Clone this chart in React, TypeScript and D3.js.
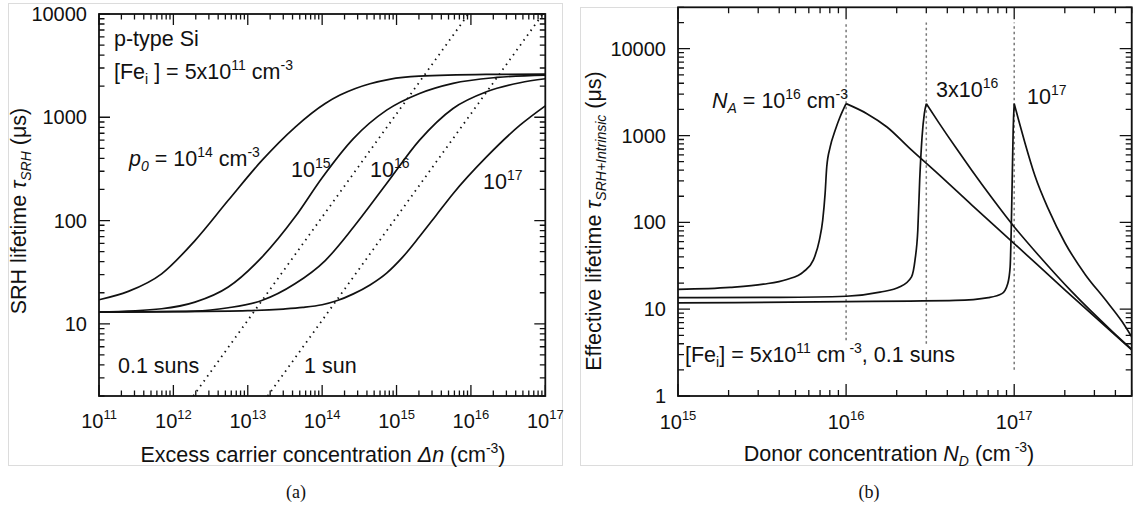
import React from "react";
import * as d3 from "d3";

type Pt = [number, number];

// ---------------- Panel (a): SRH lifetime vs excess carrier concentration ----------------
const p0Exponents = [14, 15, 16, 17];
const tauP0e14: Pt[] = [
  [1e11, 17.1], [2.48e11, 20.6], [6.95e11, 30.5], [1.95e12, 64], [5.47e12, 157],
  [1.54e13, 380], [4.31e13, 800], [1.1e14, 1360], [1.74e14, 1640], [2.8e14, 1900],
  [4.4e14, 2110], [8e14, 2330], [2.0e15, 2500], [1.6e16, 2600], [1e17, 2620],
];
const tauP0e15: Pt[] = [
  [1e11, 13], [6.95e11, 14.0], [1.95e12, 16.2], [5.47e12, 22.7], [1.54e13, 44],
  [4.31e13, 108], [1e14, 260], [2.63e14, 622], [7.36e14, 1172], [2.04e15, 1700],
  [5.75e15, 2130], [2.24e16, 2430], [1e17, 2560],
];
const tauP0e16: Pt[] = [
  [1e11, 13], [1.95e12, 13.3], [5.47e12, 14.3], [1.54e13, 16.8], [4.31e13, 24.4],
  [1.1e14, 41], [2.63e14, 86], [7.36e14, 228], [2.04e15, 600], [5.75e15, 1216],
  [1.62e16, 1764], [4.57e16, 2160], [1e17, 2360],
];
const tauP0e17: Pt[] = [
  [1e11, 13], [1e12, 13.1], [1e13, 13.4], [3e13, 13.9], [5.5e13, 14.4], [1e14, 15.3],
  [1.6e14, 16.8], [2.63e14, 19.5], [4.4e14, 23.8], [7.36e14, 31], [1.2e15, 44],
  [2.04e15, 70], [3.4e15, 112], [5.75e15, 182], [1.62e16, 413], [4.57e16, 838],
  [1e17, 1290],
];
const sunTenth: Pt[] = [[1.85e12, 2], [9.25e15, 10000]];
const sunOne: Pt[] = [[1.85e13, 2], [9.25e16, 10000]];
const leftXExps = [11, 12, 13, 14, 15, 16, 17];
const leftYTicks = ["10", "100", "1000", "10000"];

// ---------------- Panel (b): effective lifetime vs donor concentration ----------------
const naLabels = ["1e16", "3e16", "1e17"];
const tauNA1e16: Pt[] = [
  [1e15, 16.9], [2.04e15, 17.8], [3.22e15, 19.4], [4.44e15, 22], [5.57e15, 26.9],
  [6.38e15, 36.7], [6.93e15, 62], [7.26e15, 106], [7.5e15, 214], [7.67e15, 434],
  [8.04e15, 739], [8.61e15, 1148], [9.2e15, 1633], [1e16, 2330],
  [1.33e16, 1786], [1.75e16, 1253], [2.4e16, 706], [3.5e16, 366], [5.6e16, 158],
  [1e17, 57], [2e17, 16.7], [5e17, 3.4],
];
const tauNA3e16: Pt[] = [
  [1e15, 13.6], [4.05e15, 13.7], [1e16, 14.1], [1.59e16, 15.7], [2.09e16, 18.1],
  [2.45e16, 23.6], [2.57e16, 36.7], [2.67e16, 81], [2.74e16, 305], [2.83e16, 962],
  [2.92e16, 1786], [3e16, 2330],
  [3.55e16, 1419], [4.46e16, 741], [5.6e16, 396], [7.36e16, 192], [9.9e16, 91],
  [1.4e17, 41.5], [2.2e17, 15.9], [3.81e17, 5.6], [5e17, 3.45],
];
const tauNA1e17: Pt[] = [
  [1e15, 11.8], [1e16, 12.2], [2.4e16, 12.4], [4.46e16, 12.6], [7.03e16, 13.6],
  [8.45e16, 15.1], [9.16e16, 19.8], [9.46e16, 30.7], [9.6e16, 81], [9.73e16, 305],
  [9.86e16, 1148], [1e17, 2330],
  [1.06e17, 1531], [1.16e17, 817], [1.33e17, 342], [1.6e17, 141], [2.01e17, 57.5],
  [2.65e17, 25], [3.48e17, 12.9], [4.38e17, 7.2], [5e17, 4.8],
];
const naMarkerX = [1e16, 3e16, 1e17];
const naMarkerBottom = [4.4, 4.0, 2.0];
const naMarkerTop = 2e4;
const rightXExps = [15, 16, 17];
const rightYTicks = ["1", "10", "100", "1000", "10000"];

// ---------------- drawing ----------------
const FONT = "'Liberation Sans', Arial, Helvetica, sans-serif";
const SERIF = "'Liberation Serif', 'Times New Roman', serif";
const FS = 21.5;
const SUP = 14;

function logTicks(a: number, b: number) {
  const out: { v: number; major: boolean }[] = [];
  for (let e = Math.floor(Math.log10(a)); e <= Math.ceil(Math.log10(b)); e++) {
    for (let m = 1; m <= 9; m++) {
      const v = m * Math.pow(10, e);
      if (v >= a * 0.999 && v <= b * 1.001) out.push({ v, major: m === 1 });
    }
  }
  return out;
}

type LS = d3.ScaleLogarithmic<number, number>;

function Frame({ x, y, maj, min }: { x: LS; y: LS; maj: number; min: number }) {
  const [x0, x1] = x.range();
  const [yb, yt] = y.range();
  const [dx0, dx1] = x.domain();
  const [dy0, dy1] = y.domain();
  const segs: string[] = [];
  logTicks(dx0, dx1).forEach((t) => {
    const px = x(t.v);
    const L = t.major ? maj : min;
    segs.push(`M${px},${yb}V${yb - L}`);
    segs.push(`M${px},${yt}V${yt + L}`);
  });
  logTicks(dy0, dy1).forEach((t) => {
    const py = y(t.v);
    const L = t.major ? maj : min;
    segs.push(`M${x0},${py}H${x0 + L}`);
    segs.push(`M${x1},${py}H${x1 - L}`);
  });
  return (
    <g>
      <path d={segs.join("")} stroke="#111" strokeWidth={1.3} fill="none" />
      <rect x={x0} y={yt} width={x1 - x0} height={yb - yt} fill="none" stroke="#111" strokeWidth={1.8} />
    </g>
  );
}

function curvePath(x: LS, y: LS, pts: Pt[]) {
  let im = 0;
  pts.forEach((p, i) => { if (p[1] > pts[im][1]) im = i; });
  const gen = d3.line<Pt>().x((d) => x(d[0])).y((d) => y(d[1])).curve(d3.curveMonotoneX);
  const a = pts.slice(0, im + 1);
  const b = pts.slice(im);
  return (a.length > 1 ? gen(a) : "") + (b.length > 1 ? gen(b) : "");
}

function XTickLabels({ x, exps, yBase }: { x: LS; exps: number[]; yBase: number }) {
  return (
    <g fontFamily={FONT} fontSize={20} fill="#111" textAnchor="middle">
      {exps.map((e) => (
        <text key={e} x={x(Math.pow(10, e))} y={yBase}>
          10<tspan dy={-9} fontSize={13}>{e}</tspan>
        </text>
      ))}
    </g>
  );
}

function YTickLabels({ y, labels, xRight }: { y: LS; labels: string[]; xRight: number }) {
  return (
    <g fontFamily={FONT} fontSize={20} fill="#111" textAnchor="end">
      {labels.map((l) => (
        <text key={l} x={xRight} y={y(+l) + 7}>{l}</text>
      ))}
    </g>
  );
}

export default function App() {
  const xL = d3.scaleLog().domain([1e11, 1e17]).range([99, 545.3]);
  const yL = d3.scaleLog().domain([2, 10000]).range([396, 14]);
  const xR = d3.scaleLog().domain([1e15, 5e17]).range([678, 1131.7]);
  const yR = d3.scaleLog().domain([1, 30000]).range([396, 7.3]);

  const leftCurves = [tauP0e14, tauP0e15, tauP0e16, tauP0e17];
  const rightCurves = [tauNA1e16, tauNA3e16, tauNA1e17];
  const straight = d3.line<Pt>().x((d) => xL(d[0])).y((d) => yL(d[1]));

  return (
    <div style={{ position: "fixed", left: 0, top: 0 }}>
      <svg width={1135} height={506} style={{ display: "block", background: "#fff" }}>
        <defs>
          <clipPath id="clipL"><rect x={99} y={14} width={446.3} height={382} /></clipPath>
          <clipPath id="clipR"><rect x={678} y={7.3} width={453.7} height={388.7} /></clipPath>
        </defs>
        <rect x={8.5} y={3.5} width={554} height={462} fill="none" stroke="#dcdcdc" strokeWidth={1} />
        <rect x={580.5} y={7.5} width={552} height={458} fill="none" stroke="#dcdcdc" strokeWidth={1} />

        {/* ---------- panel (a) ---------- */}
        <g clipPath="url(#clipL)">
          {[sunTenth, sunOne].map((s, i) => (
            <path key={i} d={straight(s) || ""} stroke="#111" strokeWidth={1.8} strokeDasharray="1.5,4.5" fill="none" />
          ))}
          {leftCurves.map((c, i) => (
            <path key={"p0-" + p0Exponents[i]} d={curvePath(xL, yL, c)} stroke="#111" strokeWidth={1.7} fill="none" />
          ))}
        </g>
        <Frame x={xL} y={yL} maj={11} min={5.5} />
        <XTickLabels x={xL} exps={leftXExps} yBase={428} />
        <YTickLabels y={yL} labels={leftYTicks} xRight={87} />

        <g fontFamily={FONT} fontSize={FS} fill="#111">
          <text x={114} y={46}>p-type Si</text>
          <text x={114} y={79}>
            [Fe<tspan dy={5} fontSize={SUP}>i</tspan><tspan dy={-5}> ] = 5x10</tspan>
            <tspan dy={-9} fontSize={SUP}>11</tspan><tspan dy={9}> cm</tspan>
            <tspan dy={-9} fontSize={SUP}>-3</tspan>
          </text>
          <text x={129} y={166}>
            <tspan fontStyle="italic">p</tspan><tspan dy={5} fontSize={SUP} fontStyle="italic">0</tspan>
            <tspan dy={-5}> = 10</tspan><tspan dy={-9} fontSize={SUP}>{p0Exponents[0]}</tspan>
            <tspan dy={9}> cm</tspan><tspan dy={-9} fontSize={SUP}>-3</tspan>
          </text>
          <text x={291} y={177}>10<tspan dy={-9} fontSize={SUP}>{p0Exponents[1]}</tspan></text>
          <text x={370} y={177}>10<tspan dy={-9} fontSize={SUP}>{p0Exponents[2]}</tspan></text>
          <text x={483} y={189}>10<tspan dy={-9} fontSize={SUP}>{p0Exponents[3]}</tspan></text>
          <text x={118} y={373}>0.1 suns</text>
          <text x={304} y={373}>1 sun</text>
          <text x={323} y={462} textAnchor="middle">
            Excess carrier concentration <tspan fontStyle="italic">Δn</tspan> (cm
            <tspan dy={-9} fontSize={SUP}>-3</tspan><tspan dy={9}>)</tspan>
          </text>
          <text transform="translate(26,211) rotate(-90)" textAnchor="middle">
            SRH lifetime <tspan fontStyle="italic">τ</tspan>
            <tspan dy={5} fontSize={SUP} fontStyle="italic">SRH</tspan>
            <tspan dy={-5}> (μs)</tspan>
          </text>
        </g>
        <text x={296} y={498} textAnchor="middle" fontFamily={SERIF} fontSize={18} fill="#111">(a)</text>

        {/* ---------- panel (b) ---------- */}
        <g clipPath="url(#clipR)">
          {naMarkerX.map((v, i) => (
            <line key={v} x1={xR(v)} x2={xR(v)} y1={yR(naMarkerBottom[i])} y2={yR(naMarkerTop)}
              stroke="#777" strokeWidth={1.5} strokeDasharray="2.5,3" />
          ))}
          {rightCurves.map((c, i) => (
            <path key={naLabels[i]} d={curvePath(xR, yR, c)} stroke="#111" strokeWidth={1.7} fill="none" />
          ))}
        </g>
        <Frame x={xR} y={yR} maj={12} min={6} />
        <XTickLabels x={xR} exps={rightXExps} yBase={429} />
        <YTickLabels y={yR} labels={rightYTicks} xRight={666} />

        <g fontFamily={FONT} fontSize={FS} fill="#111">
          <text x={712} y={108}>
            <tspan fontStyle="italic">N</tspan><tspan dy={5} fontSize={SUP} fontStyle="italic">A</tspan>
            <tspan dy={-5}> = 10</tspan><tspan dy={-9} fontSize={SUP}>16</tspan>
            <tspan dy={9}> cm</tspan><tspan dy={-9} fontSize={SUP}>-3</tspan>
          </text>
          <text x={936} y={97}>3x10<tspan dy={-9} fontSize={SUP}>16</tspan></text>
          <text x={1027} y={104}>10<tspan dy={-9} fontSize={SUP}>17</tspan></text>
          <text x={685} y={362}>
            [Fe<tspan dy={5} fontSize={SUP}>i</tspan><tspan dy={-5}>] = 5x10</tspan>
            <tspan dy={-9} fontSize={SUP}>11</tspan><tspan dy={9}> cm</tspan>
            <tspan dy={-9} fontSize={SUP}> -3</tspan><tspan dy={9}>, 0.1 suns</tspan>
          </text>
          <text x={889} y={461} textAnchor="middle">
            Donor concentration <tspan fontStyle="italic">N</tspan>
            <tspan dy={5} fontSize={SUP} fontStyle="italic">D</tspan>
            <tspan dy={-5}> (cm</tspan><tspan dy={-9} fontSize={SUP}> -3</tspan><tspan dy={9}>)</tspan>
          </text>
          <text transform="translate(601,221) rotate(-90)" textAnchor="middle">
            Effective lifetime <tspan fontStyle="italic">τ</tspan>
            <tspan dy={5} fontSize={SUP} fontStyle="italic">SRH+Intrinsic</tspan>
            <tspan dy={-5}> (μs)</tspan>
          </text>
        </g>
        <text x={869} y={498} textAnchor="middle" fontFamily={SERIF} fontSize={18} fill="#111">(b)</text>
      </svg>
    </div>
  );
}
